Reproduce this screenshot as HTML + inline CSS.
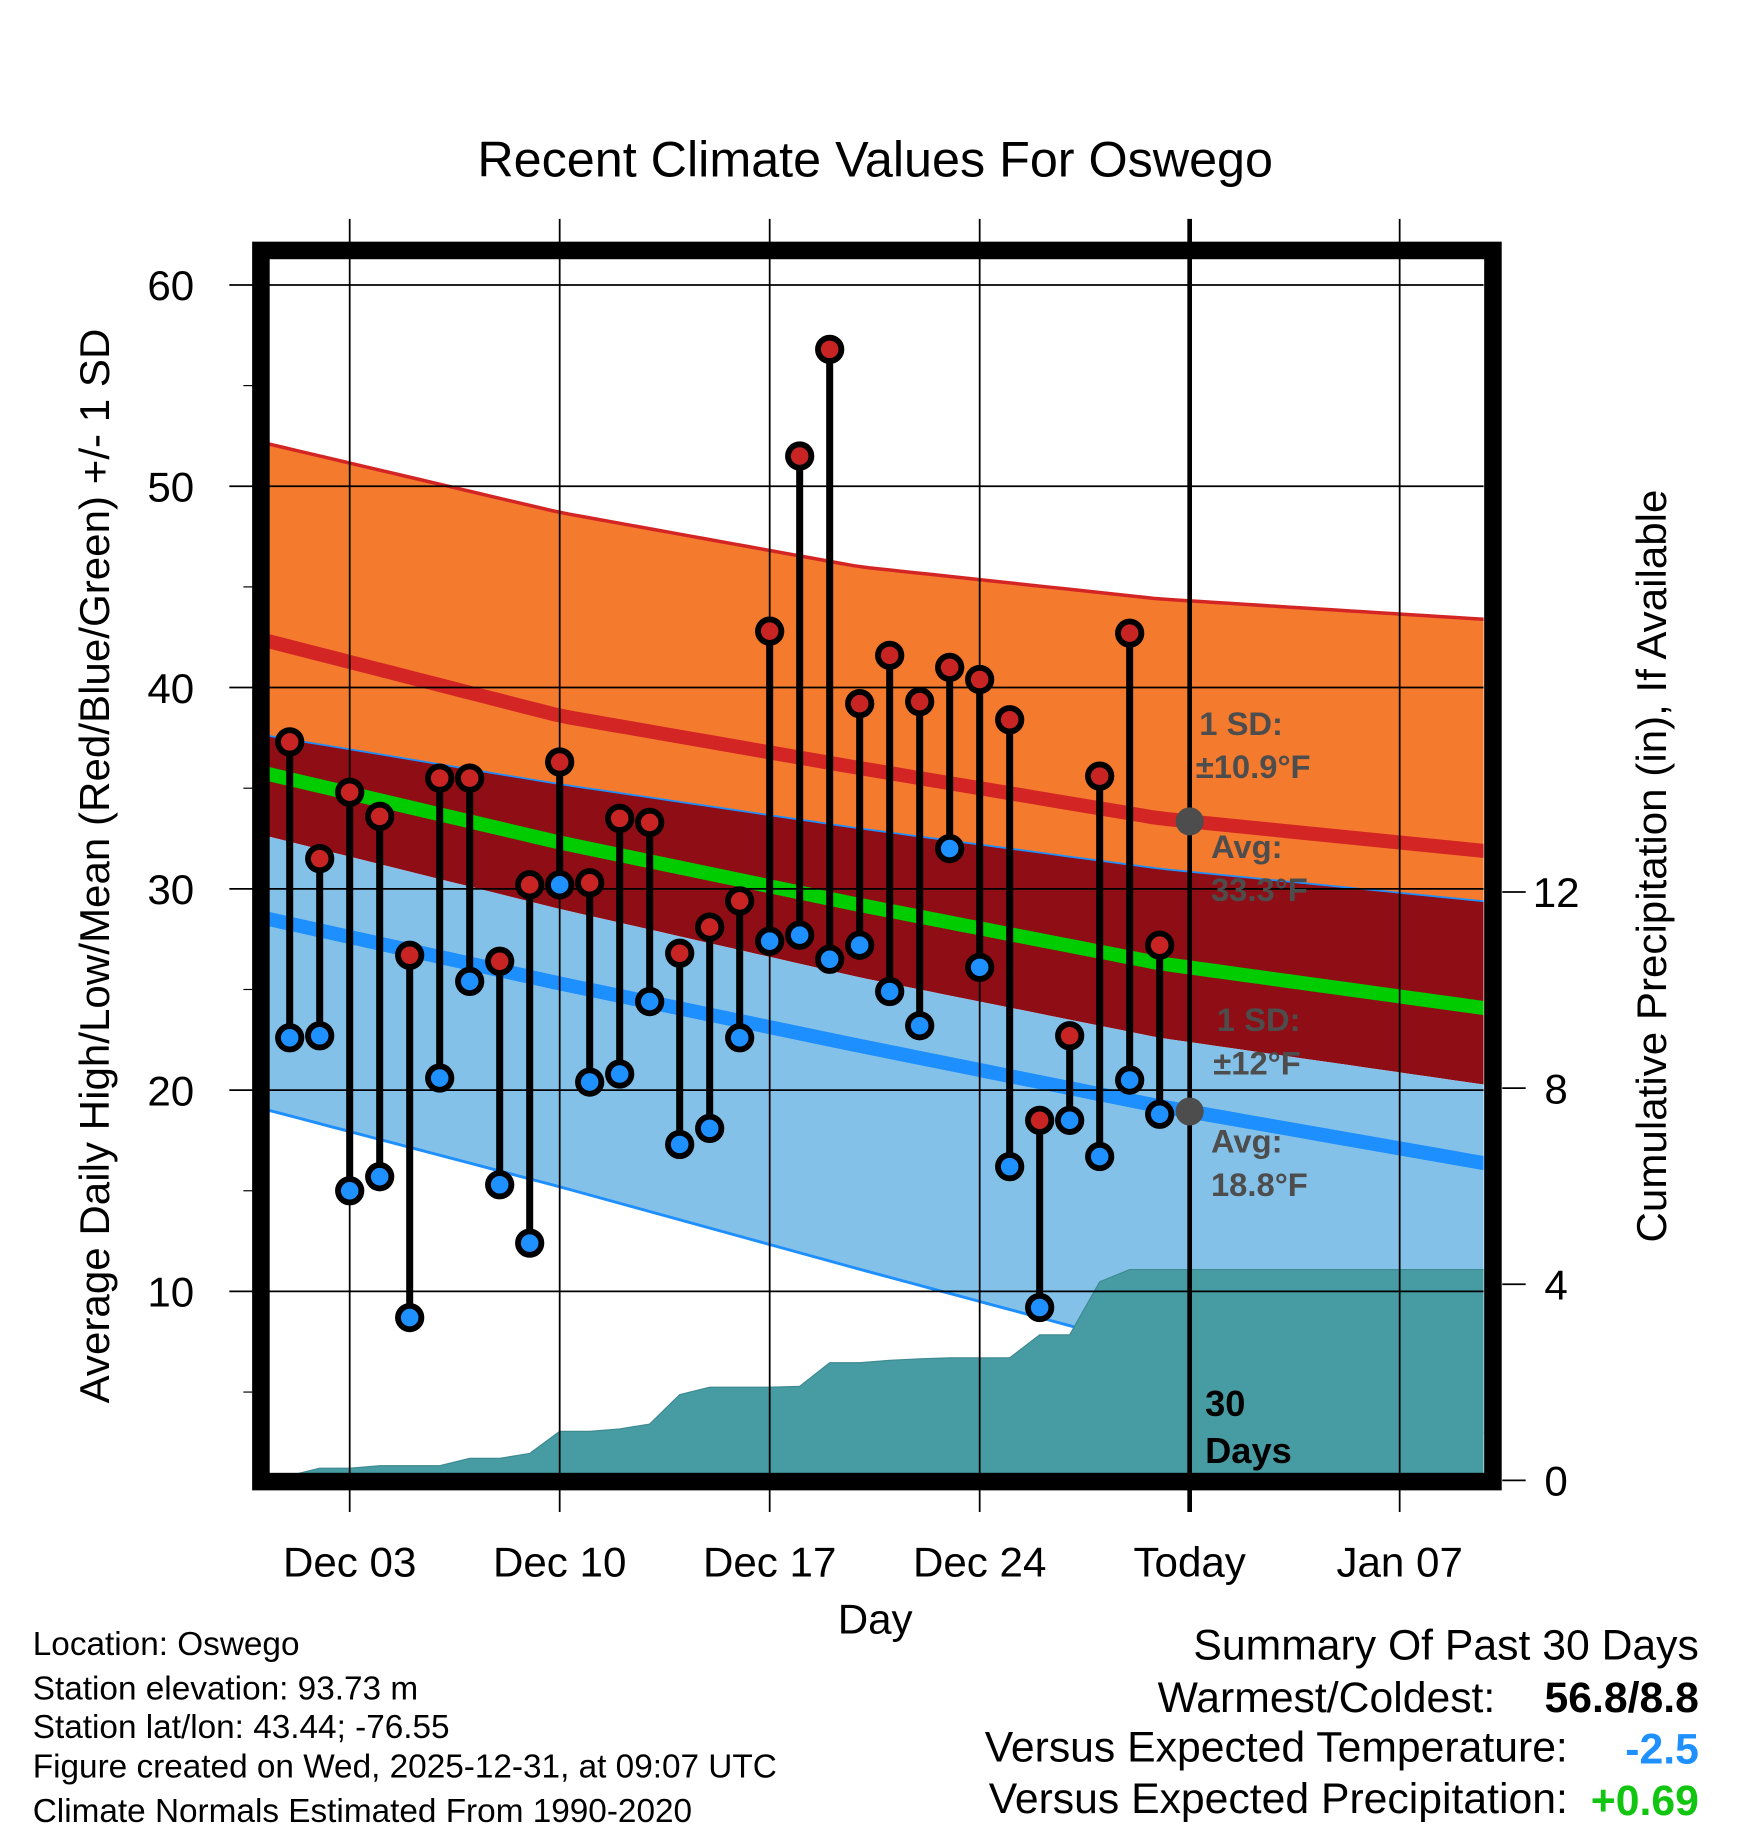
<!DOCTYPE html>
<html><head><meta charset="utf-8"><style>
html,body{margin:0;padding:0;background:#fff;}
svg{display:block;font-family:"Liberation Sans",Arial,sans-serif;}
</style></head><body>
<svg id="chart" width="1748" height="1828" viewBox="0 0 1494 1562" preserveAspectRatio="none" xmlns="http://www.w3.org/2000/svg">
<text x="748" y="151" font-size="43" text-anchor="middle">Recent Climate Values For Oswego</text>
<text transform="translate(93,740) rotate(-90)" font-size="36" text-anchor="middle">Average Daily High/Low/Mean (Red/Blue/Green) +/- 1 SD</text>
<text transform="translate(1424,740) rotate(-90)" font-size="36" text-anchor="middle">Cumulative Precipitation (in), If Available</text>
<text x="748" y="1396" font-size="36" text-anchor="middle">Day</text>
<g font-size="28.5">
<text x="28" y="1414">Location: Oswego</text>
<text x="28" y="1452">Station elevation: 93.73 m</text>
<text x="28" y="1485">Station lat/lon: 43.44; -76.55</text>
<text x="28" y="1519">Figure created on Wed, 2025-12-31, at 09:07 UTC</text>
<text x="28" y="1557">Climate Normals Estimated From 1990-2020</text>
</g>
<g font-size="36.5" text-anchor="end">
<text x="1452" y="1418">Summary Of Past 30 Days</text>
<text x="1278" y="1463">Warmest/Coldest:</text>
<text x="1452" y="1463" font-weight="bold">56.8/8.8</text>
<text x="1340" y="1505">Versus Expected Temperature:</text>
<text x="1452" y="1507" font-weight="bold" fill="#1e90ff">-2.5</text>
<text x="1340" y="1549">Versus Expected Precipitation:</text>
<text x="1452" y="1551" font-weight="bold" fill="#11c511">+0.69</text>
</g>
<defs><clipPath id="pc"><rect x="230" y="222" width="1038" height="1038"/></clipPath></defs>
<g id="plot" clip-path="url(#pc)"></g>
<g id="over"></g>
</svg>
<script>
const highs=[37.3,31.5,34.8,33.6,26.7,35.5,35.5,26.4,30.2,36.3,30.3,33.5,33.3,26.8,28.1,29.4,42.8,51.5,56.8,39.2,41.6,39.3,41.0,40.4,38.4,18.5,22.7,35.6,42.7,27.2];
const lows=[22.6,22.7,15.0,15.7,8.7,20.6,25.4,15.3,12.4,30.2,20.4,20.8,24.4,17.3,18.1,22.6,27.4,27.7,26.5,27.2,24.9,23.2,32.0,26.1,16.2,9.2,18.5,16.7,20.5,18.8];
const precip=[0.1,0.25,0.25,0.3,0.3,0.3,0.45,0.45,0.55,1.0,1.0,1.05,1.15,1.75,1.9,1.9,1.9,1.92,2.4,2.4,2.45,2.48,2.5,2.5,2.5,2.97,2.97,4.05,4.3,4.3,4.3];
const normDays=[-0.7,9,19,29,39.7];
const hiUp=[52.1,48.7,46.0,44.4,43.4];
const hiAvg=[42.3,38.6,36.0,33.5,31.9];
const hiLo=[37.6,35.2,33.0,31.0,29.4];
const meanAvg=[35.7,32.3,29.2,26.3,24.1];
const loUp=[32.6,29.0,25.6,22.6,20.3];
const loAvg=[28.5,25.3,22.2,19.2,16.4];
const loDn=[19.0,15.2,11.1,7.1,3.0];
const xTickDays=[2,9,16,23,30,37];
const xTickLabels=["Dec 03","Dec 10","Dec 17","Dec 24","Today","Jan 07"];
const yTicks=[10,20,30,40,50,60];
const pTicks=[0,4,8,12];

const X=d=>247.6+d*25.64;
const Y=v=>243.5+(60-v)*17.2;
const P=p=>1265-p*41.9;
const NS="http://www.w3.org/2000/svg";
const plot=document.getElementById('plot'),over=document.getElementById('over');
function mk(parent,tag,attrs){const e=document.createElementNS(NS,tag);for(const k in attrs)e.setAttribute(k,attrs[k]);parent.appendChild(e);return e;}
function interp(arr,d){for(let i=0;i<normDays.length-1;i++){if(d<=normDays[i+1]||i==normDays.length-2){const t=(d-normDays[i])/(normDays[i+1]-normDays[i]);return arr[i]+(arr[i+1]-arr[i])*t;}}}
function curvePts(arr){const pts=[];for(let d=-1.2;d<=40.31;d+=0.5){pts.push([X(d),Y(interp(arr,d))]);}return pts;}
function band(top,bot,fill,name){const a=curvePts(top),b=curvePts(bot).reverse();const p=mk(plot,'path',{d:'M'+a.concat(b).map(q=>q.join(',')).join('L')+'Z',fill:fill});

}
function line(arr,color,w,name){const p=mk(plot,'polyline',{points:curvePts(arr).map(q=>q.join(',')).join(' '),fill:'none',stroke:color,'stroke-width':w});

}

band(hiUp,hiLo,'#f47a2e','high-sd-band');
band(hiLo,loUp,'#8f0d14','overlap-band');
band(loUp,loDn,'#84c1e8','low-sd-band');
line(hiUp,'#d42525',3,'high-plus-sd-line');
line(hiLo,'#1e8fff',1.5,'high-minus-sd-line');
line(loDn,'#1e8fff',2.5,'low-minus-sd-line');
line(hiAvg,'#d42525',12,'high-avg-line');
line(meanAvg,'#00cc00',12,'mean-avg-line');
line(loAvg,'#1e8fff',12,'low-avg-line');

let pp=[[X(-1.2),P(0)],[X(-1.2),P(precip[0])]];
precip.forEach((v,i)=>pp.push([X(i),P(v)]));
pp.push([X(40.3),P(precip[precip.length-1])],[X(40.3),P(0)]);
const pa=mk(plot,'path',{d:'M'+pp.map(q=>q.join(',')).join('L')+'Z',fill:'#479ba3',stroke:'#3d8a91','stroke-width':1});



yTicks.forEach(v=>{const l=mk(over,'line',{x1:196,x2:1268,y1:Y(v),y2:Y(v),stroke:'#000','stroke-width':1.5});


const t=mk(over,'text',{x:166,y:Y(v)+13,'font-size':36,'text-anchor':'end'});t.textContent=v;

});
[5,15,25,35,45,55].forEach(v=>{const l=mk(over,'line',{x1:208,x2:216,y1:Y(v),y2:Y(v),stroke:'#000','stroke-width':1});

});
pTicks.forEach(v=>{const l=mk(over,'line',{x1:1284,x2:1304,y1:P(v),y2:P(v),stroke:'#000','stroke-width':1.5});


const t=mk(over,'text',{x:1330,y:P(v)+13,'font-size':36,'text-anchor':'middle'});t.textContent=v;

});
xTickDays.forEach((d,i)=>{const l=mk(over,'line',{x1:X(d),x2:X(d),y1:187,y2:1292,stroke:'#000','stroke-width':i==4?4:1.5});


const t=mk(over,'text',{x:X(d),y:1347,'font-size':36,'text-anchor':'middle'});t.textContent=xTickLabels[i];

});

highs.forEach((h,i)=>{const s=mk(over,'line',{x1:X(i),x2:X(i),y1:Y(h),y2:Y(lows[i]),stroke:'#000','stroke-width':6});

});
highs.forEach((h,i)=>{const c=mk(over,'circle',{cx:X(i),cy:Y(h),r:10,fill:'#c82424',stroke:'#000','stroke-width':5});


const c2=mk(over,'circle',{cx:X(i),cy:Y(lows[i]),r:10,fill:'#1e90ff',stroke:'#000','stroke-width':5});

});

const todayD=30;
const gd1=mk(over,'circle',{cx:X(todayD),cy:Y(interp(hiAvg,todayD)),r:12,fill:'#4d4d4d'});


const gd2=mk(over,'circle',{cx:X(todayD),cy:Y(interp(loAvg,todayD)),r:12,fill:'#4d4d4d'});


const labs=[[1025,628,'1 SD:'],[1022,665,'±10.9°F'],[1035,733,'Avg:'],[1035,770,'33.3°F'],[1040,881,'1 SD:'],[1037,918,'±12°F'],[1035,985,'Avg:'],[1035,1022,'18.8°F']];
labs.forEach(a=>{const t=mk(over,'text',{x:a[0],y:a[1],'font-size':28,'font-weight':'bold',fill:'#4d4d4d'});t.textContent=a[2];

});
[[1030,1210,'30'],[1030,1250,'Days']].forEach(a=>{const t=mk(over,'text',{x:a[0],y:a[1],'font-size':31,'font-weight':'bold',fill:'#000'});t.textContent=a[2];

});

const fr=mk(over,'rect',{x:223,y:214,width:1053,height:1052,fill:'none',stroke:'#000','stroke-width':15});


</script>
</body></html>
